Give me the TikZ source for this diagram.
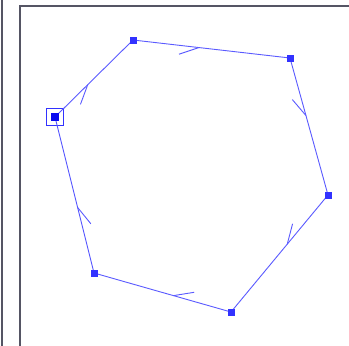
\documentclass[tikz,border=0pt]{standalone}
\usetikzlibrary{calc}
\definecolor{edgeblue}{RGB}{90,90,255}
\definecolor{vtxblue}{RGB}{50,50,255}
\definecolor{selblue}{RGB}{10,10,240}
\definecolor{framegray}{RGB}{85,85,100}
\begin{document}
\begin{tikzpicture}[x=1pt,y=-1pt,
  vtx/.style={rectangle,fill=vtxblue,inner sep=0pt,minimum size=7pt},
  selvtx/.style={rectangle,fill=selblue,inner sep=0pt,minimum size=8pt},
  selbox/.style={rectangle,draw=vtxblue,line width=0.9pt,inner sep=0pt,minimum size=17pt},
  edge/.style={draw=edgeblue,line width=0.9pt},
  barb/.style={draw=edgeblue,line width=0.9pt},
  frame/.style={draw=framegray,line width=2pt}]
\useasboundingbox (0,0) rectangle (349,346);
\fill[white] (0,0) rectangle (349,346);
% frames
\draw[frame] (1.5,0) -- (1.5,346);
\draw[frame] (19.5,346) -- (19.5,5.5) -- (349,5.5);
% vertices
\node[selbox] (Abox) at (55,117) {};
\node[selvtx] (A) at (55,117) {};
\node[vtx] (B) at (133,40) {};
\node[vtx] (C) at (290,58) {};
\node[vtx] (D) at (328,195) {};
\node[vtx] (E) at (231,312) {};
\node[vtx] (F) at (94,273) {};
% edges
\foreach \s/\t in {A/B,B/C,C/D,D/E,E/F,F/A}{
  \draw[edge] (\s.center) -- (\t.center);
  \coordinate (tip\s) at ($(\s.center)!0.42!(\t.center)$);
  \draw[barb] (tip\s) -- ($(tip\s)!21pt!25:(\s.center)$);
}
\node[selvtx] at (A) {};
\node[vtx] at (B) {};
\node[vtx] at (C) {};
\node[vtx] at (D) {};
\node[vtx] at (E) {};
\node[vtx] at (F) {};
\end{tikzpicture}
\end{document}
